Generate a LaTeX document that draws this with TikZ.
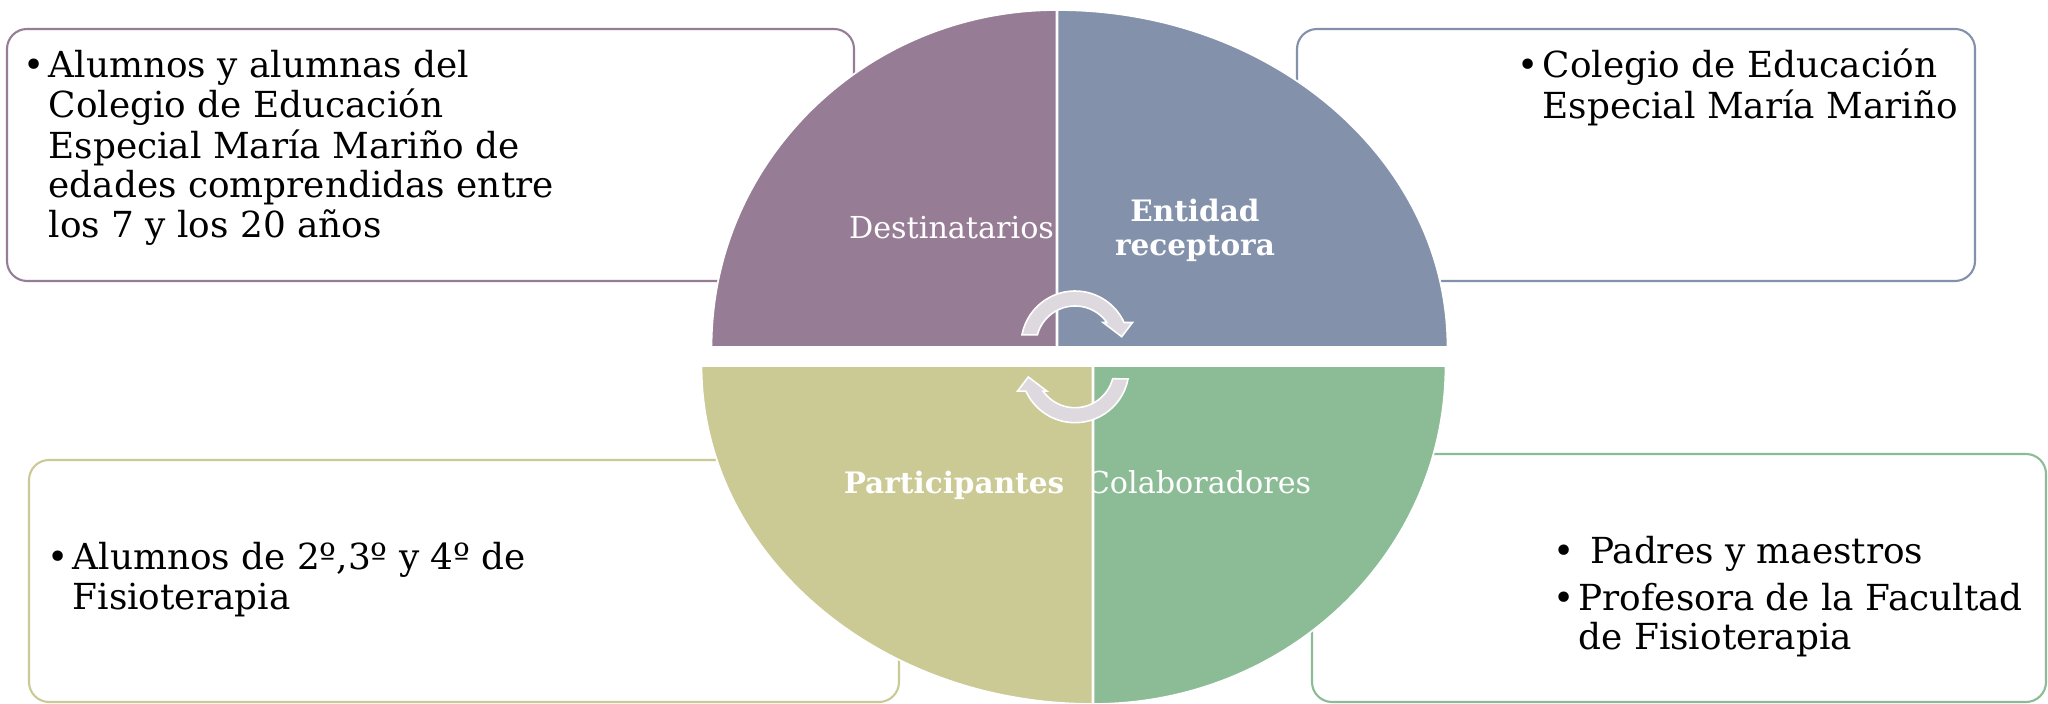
\documentclass[tikz,border=0pt]{standalone}
\usepackage{fontspec}
\setmainfont{DejaVu Serif}

\definecolor{destcol}{RGB}{150,125,149}
\definecolor{entcol}{RGB}{131,145,171}
\definecolor{partcol}{RGB}{203,201,148}
\definecolor{colcol}{RGB}{139,188,150}
\definecolor{arrowgray}{RGB}{221,217,223}

% bullet with a fixed width, and the same gap for follow-on lines
\newcommand{\bul}{\makebox[2.5mm][l]{•}}

\tikzset{
  quadrant/.style={draw=white, line width=0.5pt},
  infobox/.style={line width=0.6pt, rounded corners=2mm, fill=white},
  boxtext/.style={anchor=base west, inner sep=0pt, font=\fontsize{10.2}{11.25}\selectfont},
  ringlabel/.style={anchor=base, inner sep=0pt, text=white, font=\fontsize{8.6}{10}\selectfont},
  ringbold/.style={anchor=base, inner sep=0pt, text=white, font=\fontsize{8.4}{9.6}\selectfont\bfseries},
  cyclearrow/.style={fill=arrowgray, draw=white, line width=0.45pt}
}

\begin{document}
\begin{tikzpicture}[x=0.1mm, y=0.1mm]

    \useasboundingbox (0,0) rectangle (2048,704);

    % --- Coordinates ---
    % inner corners of the four quarters
    \coordinate (TLc) at (1056.5,357);
    \coordinate (TRc) at (1057.5,357);
    \coordinate (BLc) at (1092.5,338);
    \coordinate (BRc) at (1093.5,338);
    % centres of the two cycle arrows
    \coordinate (arrTop) at (1075,359);
    \coordinate (arrBot) at (1075,335.3);

    % --- Side boxes ---
    \draw[infobox, draw=destcol] (7,423) rectangle (854,675);
    \draw[infobox, draw=entcol] (1297,423) rectangle (1975,675);
    \draw[infobox, draw=partcol] (29,2) rectangle (899,244);
    \draw[infobox, draw=colcol] (1312,2) rectangle (2046,250);

    % --- Quarters of the circle ---
    % top left (Destinatarios)
    \filldraw[quadrant, fill=destcol] (TLc) -- ++(-345,0)
        arc[start angle=180, end angle=90, x radius=345, y radius=337] -- cycle;
    % top right (Entidad receptora)
    \filldraw[quadrant, fill=entcol] (TRc) -- ++(390,0)
        arc[start angle=0, end angle=90, x radius=390, y radius=337] -- cycle;
    % bottom right (Colaboradores)
    \filldraw[quadrant, fill=colcol] (BRc) -- ++(352,0)
        arc[start angle=0, end angle=-90, x radius=352, y radius=338] -- cycle;
    \node[ringlabel] (colaboradores) at (1199,210.7) {Colaboradores};
    % bottom left (Participantes), laid over the first letter above
    \filldraw[quadrant, fill=partcol] (BLc) -- ++(-391,0)
        arc[start angle=180, end angle=270, x radius=391, y radius=338] -- cycle;

    % --- Cycle arrows ---
    % flat tail, curved band, head with a level back edge
    \begin{scope}[shift={(arrTop)}]
        \filldraw[cyclearrow] (169.1:54) arc[start angle=169.1, end angle=24.6, radius=54]
            -- (57.5,22.5) -- (46.7,8.3) -- (28,22.5) -- (31.9,22.5)
            arc[start angle=35.2, end angle=165.1, radius=39] -- cycle;
    \end{scope}
    \begin{scope}[shift={(arrBot)}, rotate=180]
        \filldraw[cyclearrow] (169.1:54) arc[start angle=169.1, end angle=24.6, radius=54]
            -- (57.5,22.5) -- (46.7,8.3) -- (28,22.5) -- (31.9,22.5)
            arc[start angle=35.2, end angle=165.1, radius=39] -- cycle;
    \end{scope}

    % --- Quarter labels ---
    \node[ringlabel] (destinatarios) at (951.5,465.7) {Destinatarios};
    \node[ringbold] (entidad) at (1195,482.3)
        {\begin{tabular}[t]{@{}c@{}}Entidad\\receptora\end{tabular}};
    \node[ringbold] (participantes) at (954,210.7) {Participantes};

    % --- Box texts ---
    \node[boxtext] (destText) at (23,626.7) {\begin{tabular}[t]{@{}l@{}l@{}}
        \bul & Alumnos y alumnas del\\
             & Colegio de Educación\\
             & Especial María Mariño de\\
             & edades comprendidas entre\\
             & los 7 y los 20 años
        \end{tabular}};
    \node[boxtext] (entText) at (1517,626.3) {\begin{tabular}[t]{@{}l@{}l@{}}
        \bul & Colegio de Educación\\
             & Especial María Mariño
        \end{tabular}};
    \node[boxtext] (partText) at (47,134) {\begin{tabular}[t]{@{}l@{}l@{}}
        \bul & Alumnos de 2º,3º y 4º de\\
             & Fisioterapia
        \end{tabular}};
    \node[boxtext] (colText) at (1553,140) {\begin{tabular}[t]{@{}l@{}l@{}}
        \bul & \ Padres y maestros\\[1.85pt]
        \bul & Profesora de la Facultad\\
             & de Fisioterapia
        \end{tabular}};

\end{tikzpicture}
\end{document}
